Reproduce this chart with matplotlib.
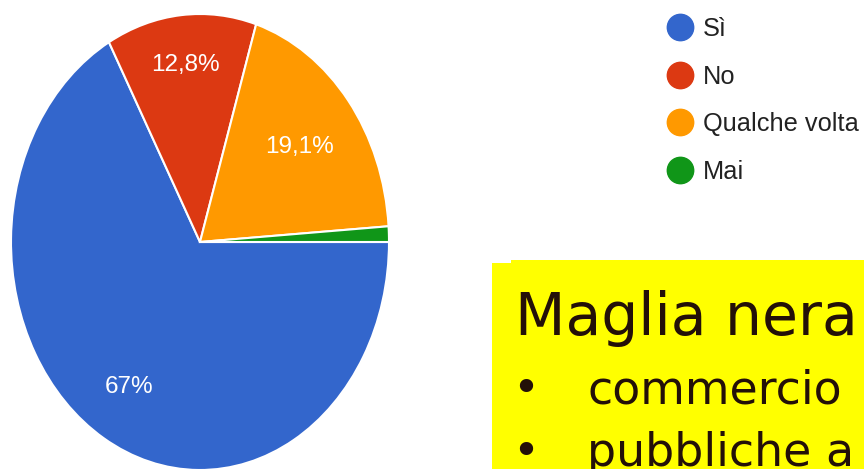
import numpy as np
import matplotlib
matplotlib.use("Agg")
import matplotlib.pyplot as plt
from matplotlib.lines import Line2D
from matplotlib.patches import Rectangle

categories = ["Sì", "No", "Qualche volta", "Mai"]
values = [67.0, 12.8, 19.1, 1.1]
colors = ["#3366CC", "#DC3912", "#FF9900", "#109618"]
label_dist = [0.74, 0.78, 0.67, 0.8]

title_text = "Maglia nera"
bullet_items = ["commercio", "pubbliche a"]

def fmt(v):
    if v < 5:
        return ""
    s = f"{v:g}".replace(".", ",")
    return s + "%"

fig = plt.figure(figsize=(8.64, 4.69), dpi=100)
fig.patch.set_facecolor("white")

W, H = 864, 469
ax = fig.add_axes([11 / W, -1 / H, 378 / W, 456 / H])
wedges, _ = ax.pie(values, colors=colors, startangle=0, counterclock=False,
                   radius=1, wedgeprops=dict(edgecolor="white", linewidth=1.5))
ax.set_aspect("auto")
ax.set_xlim(-1, 1)
ax.set_ylim(-1, 1)
ax.axis("off")

for w, v, d in zip(wedges, values, label_dist):
    lab = fmt(v)
    if not lab:
        continue
    ang = np.deg2rad((w.theta1 + w.theta2) / 2)
    ax.text(d * np.cos(ang), d * np.sin(ang), lab, color="white",
            fontsize=17.5, family="Liberation Sans", ha="center", va="center")

handles = [Line2D([0], [0], marker="o", linestyle="none", markersize=19,
                  markerfacecolor=c, markeredgecolor=c) for c in colors]
leg = fig.legend(handles, categories, loc="upper left",
                 bbox_to_anchor=(667 / W, 1 - 17 / H), frameon=False,
                 prop=dict(family="Liberation Sans", size=18.3),
                 handlelength=1.0, handletextpad=0.42, labelspacing=0.93,
                 borderaxespad=0, borderpad=0)
for t in leg.get_texts():
    t.set_color("#222222")

# yellow box (with its small step at the top-left)
fig.patches.append(Rectangle((511 / W, 0), (W - 511) / W, (H - 260) / H,
                             transform=fig.transFigure, facecolor="#FFFF00",
                             edgecolor="none", zorder=0))
fig.patches.append(Rectangle((492 / W, 0), (511 - 492 + 1) / W, (H - 263) / H,
                             transform=fig.transFigure, facecolor="#FFFF00",
                             edgecolor="none", zorder=0))

txt_color = "#231008"
fig.text(515 / W, (H - 335) / H, title_text, fontsize=42, family="DejaVu Sans",
         color=txt_color, va="baseline", ha="left")
baselines = [403, 466]
for item, yb in zip(bullet_items, baselines):
    fig.text(512 / W, (H - yb) / H, "•", fontsize=33, family="DejaVu Sans",
             color=txt_color, va="baseline", ha="left")
    fig.text(587 / W, (H - yb) / H, item, fontsize=33, family="DejaVu Sans",
             color=txt_color, va="baseline", ha="left")

fig.savefig("out.png", dpi=100)
